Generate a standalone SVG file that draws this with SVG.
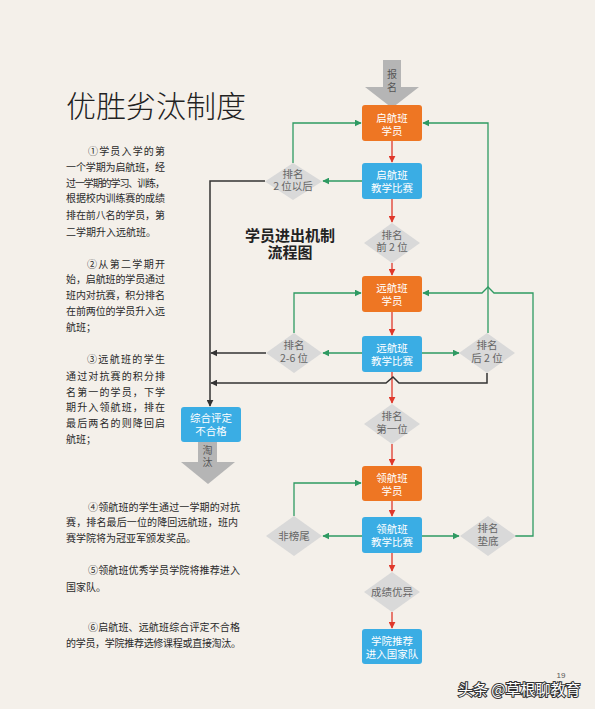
<svg xmlns="http://www.w3.org/2000/svg" width="595" height="709" viewBox="0 0 595 709">
<defs>
<style>
.bg{fill:#f4f0ea}
.or{fill:#ee7623}
.bl{fill:#3aade4}
.dm{fill:#d9d9d9}
.ga{fill:#b5b5b5}
.bt{font-family:"Noto Sans CJK SC","Liberation Sans",sans-serif;font-size:10.5px;fill:#ffffff;text-anchor:middle}
.dt{font-family:"Noto Sans CJK SC","Liberation Sans",sans-serif;font-size:10.5px;fill:#666666;text-anchor:middle}
.at{font-family:"Noto Sans CJK SC","Liberation Sans",sans-serif;font-size:10px;fill:#555555;text-anchor:middle}
.p{font-family:"Noto Sans CJK SC","Liberation Sans",sans-serif;font-size:10px;fill:#2a2a2a}
.g{fill:none;stroke:#2e9a62;stroke-width:1.3}
.r{fill:none;stroke:#e0382b;stroke-width:1.3}
.k{fill:none;stroke:#333333;stroke-width:1.5}
</style>
<marker id="mg" viewBox="0 0 10 10" refX="9" refY="5" markerWidth="7" markerHeight="7" markerUnits="userSpaceOnUse" orient="auto"><path d="M0,0L10,5L0,10z" fill="#2e9a62"/></marker>
<marker id="mr" viewBox="0 0 10 10" refX="9" refY="5" markerWidth="7" markerHeight="7" markerUnits="userSpaceOnUse" orient="auto"><path d="M0,0L10,5L0,10z" fill="#e0382b"/></marker>
<marker id="mk" viewBox="0 0 10 10" refX="9" refY="5" markerWidth="7" markerHeight="7" markerUnits="userSpaceOnUse" orient="auto"><path d="M0,0L10,5L0,10z" fill="#333333"/></marker>
</defs>
<rect class="bg" x="0" y="0" width="595" height="709"/>

<text x="66" y="117" font-family="'Noto Sans CJK SC',sans-serif" font-size="30" font-weight="300" fill="#222222">优胜劣汰制度</text>

<g id="text-left">
<text class="p" x="88" y="155" textLength="77" lengthAdjust="spacing">①学员入学的第</text>
<text class="p" x="66" y="171" textLength="99" lengthAdjust="spacing">一个学期为启航班，经</text>
<text class="p" x="66" y="187" textLength="99" lengthAdjust="spacing">过一学期的学习、训练，</text>
<text class="p" x="66" y="202" textLength="99" lengthAdjust="spacing">根据校内训练赛的成绩</text>
<text class="p" x="66" y="219" textLength="99" lengthAdjust="spacing">排在前八名的学员，第</text>
<text class="p" x="66" y="236">二学期升入远航班。</text>

<text class="p" x="87" y="268" textLength="78" lengthAdjust="spacing">②从第二学期开</text>
<text class="p" x="66" y="283" textLength="99" lengthAdjust="spacing">始，启航班的学员通过</text>
<text class="p" x="66" y="299" textLength="99" lengthAdjust="spacing">班内对抗赛，积分排名</text>
<text class="p" x="66" y="315" textLength="99" lengthAdjust="spacing">在前两位的学员升入远</text>
<text class="p" x="66" y="331">航班；</text>

<text class="p" x="87" y="363" textLength="78" lengthAdjust="spacing">③远航班的学生</text>
<text class="p" x="66" y="380" textLength="99" lengthAdjust="spacing">通过对抗赛的积分排</text>
<text class="p" x="66" y="396" textLength="99" lengthAdjust="spacing">名第一的学员，下学</text>
<text class="p" x="66" y="411" textLength="99" lengthAdjust="spacing">期升入领航班，排在</text>
<text class="p" x="66" y="427" textLength="99" lengthAdjust="spacing">最后两名的则降回启</text>
<text class="p" x="66" y="443">航班；</text>

<text class="p" x="88" y="511" textLength="152" lengthAdjust="spacing">④领航班的学生通过一学期的对抗</text>
<text class="p" x="66" y="526" textLength="172" lengthAdjust="spacing">赛，排名最后一位的降回远航班，班内</text>
<text class="p" x="66" y="542">赛学院将为冠亚军颁发奖品。</text>

<text class="p" x="88" y="574" textLength="152" lengthAdjust="spacing">⑤领航班优秀学员学院将推荐进入</text>
<text class="p" x="66" y="591">国家队。</text>

<text class="p" x="88" y="631" textLength="152" lengthAdjust="spacing">⑥启航班、远航班综合评定不合格</text>
<text class="p" x="66" y="647" textLength="175" lengthAdjust="spacing">的学员，学院推荐选修课程或直接淘汰。</text>
</g>

<g id="chart-title">
<text x="290" y="241" font-family="'Noto Sans CJK SC',serif" font-size="15" font-weight="bold" fill="#222222" text-anchor="middle">学员进出机制</text>
<text x="290" y="258" font-family="'Noto Sans CJK SC',serif" font-size="15" font-weight="bold" fill="#222222" text-anchor="middle">流程图</text>
</g>

<g id="connectors">
<path class="r" d="M392,141V162" marker-end="url(#mr)"/>
<path class="r" d="M392,199V222" marker-end="url(#mr)"/>
<path class="r" d="M392,263V275" marker-end="url(#mr)"/>
<path class="r" d="M392,312V335" marker-end="url(#mr)"/>
<path class="r" d="M392,372V403" marker-end="url(#mr)"/>
<path class="r" d="M392,444V465" marker-end="url(#mr)"/>
<path class="r" d="M392,501V516" marker-end="url(#mr)"/>
<path class="r" d="M392,553V571" marker-end="url(#mr)"/>
<path class="r" d="M392,612V628" marker-end="url(#mr)"/>
<path class="g" d="M293,163V123H361" marker-end="url(#mg)"/>
<path class="g" d="M362,181H323" marker-end="url(#mg)"/>
<path class="g" d="M488,333V123H423" marker-end="url(#mg)"/>
<path class="g" d="M294,333V293H361" marker-end="url(#mg)"/>
<path class="g" d="M362,353H323" marker-end="url(#mg)"/>
<path class="g" d="M422,353H459" marker-end="url(#mg)"/>
<path class="g" d="M515,536H533V293H494L488,287L482,293H423" marker-end="url(#mg)"/>
<path class="g" d="M294,516V483H361" marker-end="url(#mg)"/>
<path class="g" d="M362,536H323" marker-end="url(#mg)"/>
<path class="g" d="M422,536H459" marker-end="url(#mg)"/>
<path class="k" d="M265,181H210V406" marker-end="url(#mk)"/>
<path class="k" d="M266,353H211" marker-end="url(#mk)"/>
<path class="k" d="M487,373V383H399L393,377L386,383H211" marker-end="url(#mk)"/>
</g>

<g id="n-baoming">
<rect class="ga" x="383" y="60" width="18" height="28"/>
<path class="ga" d="M365,87H419L392,108Z"/>
<text class="at" x="392" y="78">报</text>
<text class="at" x="392" y="91">名</text>
</g>

<g id="n-qihang-xueyuan">
<rect class="or" x="362" y="105" width="60" height="36" rx="3"/>
<text class="bt" x="392" y="122">启航班</text>
<text class="bt" x="392" y="135">学员</text>
</g>

<g id="n-qihang-bisai">
<rect class="bl" x="362" y="163" width="60" height="36" rx="3"/>
<text class="bt" x="392" y="179">启航班</text>
<text class="bt" x="392" y="192">教学比赛</text>
</g>

<g id="d-qihang-hou">
<path class="dm" d="M293,163L322,181.5L293,200L265,181.5Z"/>
<text class="dt" x="293" y="178">排名</text>
<text class="dt" x="293" y="190">2 位以后</text>
</g>

<g id="d-qian2">
<path class="dm" d="M392,223L420,243L392,263L364,243Z"/>
<text class="dt" x="392" y="239">排名</text>
<text class="dt" x="392" y="251">前 2 位</text>
</g>

<g id="n-yuanhang-xueyuan">
<rect class="or" x="362" y="276" width="60" height="36" rx="3"/>
<text class="bt" x="392" y="292">远航班</text>
<text class="bt" x="392" y="305">学员</text>
</g>

<g id="n-yuanhang-bisai">
<rect class="bl" x="362" y="336" width="60" height="36" rx="3"/>
<text class="bt" x="392" y="352">远航班</text>
<text class="bt" x="392" y="365">教学比赛</text>
</g>

<g id="d-2-6">
<path class="dm" d="M294,333L322,353L294,373L266,353Z"/>
<text class="dt" x="294" y="349">排名</text>
<text class="dt" x="294" y="362">2-6 位</text>
</g>

<g id="d-hou2">
<path class="dm" d="M487,333L515,353L487,373L459,353Z"/>
<text class="dt" x="487" y="349">排名</text>
<text class="dt" x="487" y="362">后 2 位</text>
</g>

<g id="d-diyi">
<path class="dm" d="M392,404L420,424L392,444L364,424Z"/>
<text class="dt" x="392" y="420">排名</text>
<text class="dt" x="392" y="433">第一位</text>
</g>

<g id="n-buhege">
<rect class="bl" x="181" y="407" width="60" height="35" rx="3"/>
<text class="bt" x="211" y="422">综合评定</text>
<text class="bt" x="211" y="435">不合格</text>
</g>

<g id="n-taotai">
<rect class="ga" x="198" y="442" width="19" height="20"/>
<path class="ga" d="M181,462H235L208,484Z"/>
<text class="at" x="207.5" y="454">淘</text>
<text class="at" x="207.5" y="466">汰</text>
</g>

<g id="n-linghang-xueyuan">
<rect class="or" x="362" y="466" width="60" height="35" rx="3"/>
<text class="bt" x="392" y="482">领航班</text>
<text class="bt" x="392" y="495">学员</text>
</g>

<g id="n-linghang-bisai">
<rect class="bl" x="362" y="517" width="60" height="36" rx="3"/>
<text class="bt" x="392" y="533">领航班</text>
<text class="bt" x="392" y="546">教学比赛</text>
</g>

<g id="d-feibangwei">
<path class="dm" d="M294,516L322,536L294,556L266,536Z"/>
<text class="dt" x="294" y="540">非榜尾</text>
</g>

<g id="d-diandi">
<path class="dm" d="M488,516L516,536L488,556L460,536Z"/>
<text class="dt" x="488" y="532">排名</text>
<text class="dt" x="488" y="545">垫底</text>
</g>

<g id="d-youyi">
<path class="dm" d="M392,572L420,592L392,612L364,592Z"/>
<text class="dt" x="392" y="596">成绩优异</text>
</g>

<g id="n-guojiadui">
<rect class="bl" x="362" y="629" width="60" height="35" rx="3"/>
<text class="bt" x="392" y="645">学院推荐</text>
<text class="bt" x="392" y="658">进入国家队</text>
</g>

<g id="footer">
<text x="561" y="678" font-family="'Liberation Sans',sans-serif" font-size="8" fill="#555555" text-anchor="middle">19</text>
<text x="458" y="695" font-family="'Noto Sans CJK SC','Liberation Sans',sans-serif" font-size="15" fill="#ffffff" stroke="#333333" stroke-width="2" paint-order="stroke">头条 @草根聊教育</text>
</g>
</svg>
